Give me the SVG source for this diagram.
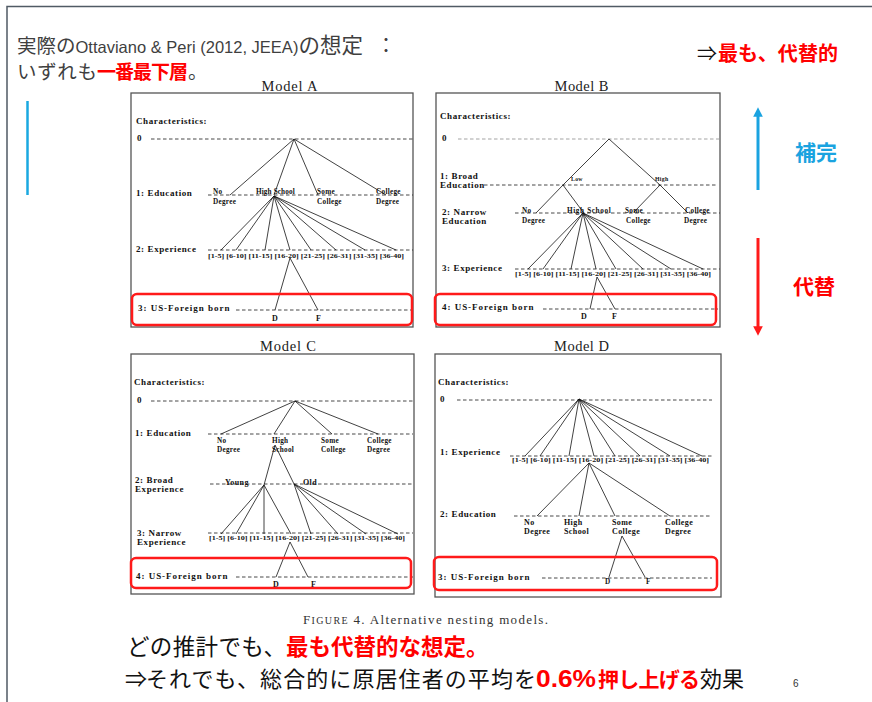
<svg xmlns="http://www.w3.org/2000/svg" width="872" height="702" viewBox="0 0 872 702">
<style>
.jp{font-family:"Noto Sans CJK JP","Noto Sans",sans-serif}
.g{fill:#3f3f3f}
.k{fill:#111}
.r{fill:#ff0000;font-weight:bold}
.b{fill:#1aa3e0;font-weight:bold}
.title{font-family:"Liberation Serif",serif;font-size:14.5px;fill:#222}
.lv{font-family:"Liberation Serif",serif;font-weight:bold;font-size:9px;letter-spacing:0.6px;fill:#111}
.nd{font-family:"Liberation Serif",serif;font-weight:bold;font-size:7.2px;letter-spacing:0.3px;fill:#111}
.nd2{font-family:"Liberation Serif",serif;font-weight:bold;font-size:8px;letter-spacing:0.4px;fill:#111}
.ex{font-family:"Liberation Serif",serif;font-weight:bold;font-size:7px;fill:#111}
.box{fill:none;stroke:#555;stroke-width:1.3}
.hl{fill:none;stroke:#ff1a1a;stroke-width:2.5}
.dash{stroke:#333;stroke-width:0.9;stroke-dasharray:3.5 2.5;fill:none}
.dl{stroke:#999}
.e{stroke:#111;stroke-width:0.8;fill:none}
</style>
<defs>
<marker id="ab" viewBox="0 0 10 10" refX="5" refY="5" markerWidth="3.2" markerHeight="3.2" orient="auto"><path d="M0,0L10,5L0,10z" fill="#1aa3e0"/></marker>
<marker id="ar" viewBox="0 0 10 10" refX="5" refY="5" markerWidth="3.2" markerHeight="3.2" orient="auto"><path d="M0,0L10,5L0,10z" fill="#ff1a1a"/></marker>
</defs>
<rect width="872" height="702" fill="#fff"/>
<path d="M7,702V6.5H872" fill="none" stroke="#505a64" stroke-width="1.5"/>
<line x1="27.5" y1="101" x2="27.5" y2="195" stroke="#1aa8e0" stroke-width="2.5"/>

<g id="heading" class="jp">
<text x="17" y="52.5" class="g"><tspan font-size="19.5">実際の</tspan><tspan font-family="Liberation Sans,sans-serif" font-size="16.5">Ottaviano &amp; Peri (2012, JEEA)</tspan><tspan font-size="21.5">の想定</tspan><tspan font-size="20" dx="13">：</tspan></text>
<text x="17" y="79" font-size="19.5" class="g" textLength="80">いずれも</text>
<text x="97" y="79" font-size="19" class="r" textLength="91">一番最下層</text>
<text x="188" y="79" font-size="19.5" class="g">。</text>
</g>

<g id="side" class="jp">
<text x="697" y="61" font-size="20" fill="#111">⇒</text>
<text x="718" y="61" font-size="20" class="r" textLength="120">最も、代替的</text>
<line x1="758" y1="190" x2="758" y2="112" stroke="#1aa3e0" stroke-width="3" marker-end="url(#ab)"/>
<text x="795" y="160" font-size="21" class="b">補完</text>
<line x1="758" y1="238" x2="758" y2="331" stroke="#ff1a1a" stroke-width="3" marker-end="url(#ar)"/>
<text x="793" y="294" font-size="21" class="r">代替</text>
</g>

<!-- Model A -->
<g id="model-a">
<text x="289.5" y="91" class="title" text-anchor="middle" textLength="56">Model A</text>
<rect class="box" x="131" y="93" width="282" height="234"/>
<g class="dash">
<line x1="151" y1="139" x2="413" y2="139"/>
<line x1="208" y1="195" x2="413" y2="195"/>
<line x1="208" y1="250" x2="413" y2="250"/>
<line x1="236" y1="310" x2="413" y2="310"/>
</g>
<text class="lv" x="136" y="124">Characteristics:</text>
<text class="lv" x="137" y="141">0</text>
<text class="lv" x="136" y="196">1: Education</text>
<text class="lv" x="136" y="252">2: Experience</text>
<text class="lv" x="138" y="311" textLength="92">3: US-Foreign born</text>
<g class="nd">
<text x="213" y="194">No</text><text x="256" y="194" textLength="39">High School</text><text x="317" y="194">Some</text><text x="376" y="194">College</text>
<text x="213" y="204">Degree</text><text x="317" y="204">College</text><text x="376" y="204">Degree</text>
</g>
<text class="ex" x="208" y="258" textLength="196" lengthAdjust="spacingAndGlyphs">[1-5] [6-10] [11-15] [16-20] [21-25] [26-31] [31-35] [36-40]</text>
<text class="nd2" x="272" y="321">D</text><text class="nd2" x="316" y="321">F</text>
<g id="conn-a" class="e">
<path d="M294,139L230,195M294,139L274,195M294,139L318,195M294,139L386,195"/>
<path d="M274,196L221,250M274,196L236,250M274,196L265,250M274,196L290,250M274,196L311,250M274,196L336,250M274,196L365,250M274,196L396,250"/>
<path d="M290,258L275,310M290,258L318,310"/>
</g>
<rect class="hl" x="132" y="294" width="280" height="31" rx="5"/>
</g>

<!-- Model B -->
<g id="model-b">
<text x="581.5" y="91" class="title" text-anchor="middle" textLength="54">Model B</text>
<rect class="box" x="436" y="93" width="284" height="234"/>
<g class="dash">
<line class="dl" x1="458" y1="139" x2="720" y2="139"/>
<line x1="484" y1="185" x2="716" y2="185"/>
<line x1="515" y1="213" x2="720" y2="213"/>
<line x1="515" y1="269" x2="720" y2="269"/>
<line x1="543" y1="309" x2="718" y2="309"/>
</g>
<text class="lv" x="440" y="119">Characteristics:</text>
<text class="lv" x="442" y="141">0</text>
<text class="lv" x="440" y="179">1:  Broad</text>
<text class="lv" x="440" y="188">Education</text>
<text class="lv" x="442" y="215">2:  Narrow</text>
<text class="lv" x="442" y="224">Education</text>
<text class="lv" x="442" y="271">3: Experience</text>
<text class="lv" x="442" y="310" textLength="92">4: US-Foreign born</text>
<g class="nd">
<text x="571" y="181" font-size="5.8">Low</text><text x="655" y="181" font-size="5.8">High</text>
<text x="522" y="213">No</text><text x="567" y="213" textLength="44">High School</text><text x="625" y="213">Some</text><text x="685" y="213">College</text>
<text x="522" y="223">Degree</text><text x="626" y="223">College</text><text x="684" y="223">Degree</text>
</g>
<text class="ex" x="515" y="276" textLength="196" lengthAdjust="spacingAndGlyphs">[1-5] [6-10] [11-15] [16-20] [21-25] [26-31] [31-35] [36-40]</text>
<text class="nd2" x="581" y="319">D</text><text class="nd2" x="612" y="319">F</text>
<g id="conn-b" class="e">
<path d="M609,139L563,185M609,139L660,185"/>
<path d="M563,185L536,213M563,185L583,212M660,185L634,212M660,185L688,213"/>
<path d="M583,213L528,269M583,213L543,269M583,213L571,269M583,213L596,269M583,213L616,269M583,213L643,269M583,213L671,269M583,213L703,269"/>
<path d="M597,277L590,309M597,277L615,309"/>
</g>
<rect class="hl" x="435" y="294" width="281" height="31" rx="5"/>
</g>

<!-- Model C -->
<g id="model-c">
<text x="288" y="351" class="title" text-anchor="middle" textLength="56">Model C</text>
<rect class="box" x="131" y="354" width="283" height="240"/>
<g class="dash">
<line x1="151" y1="401" x2="413" y2="401"/>
<line x1="208" y1="434" x2="413" y2="434"/>
<line x1="210" y1="484" x2="413" y2="484"/>
<line x1="208" y1="533" x2="413" y2="533"/>
<line x1="236" y1="577" x2="413" y2="577"/>
</g>
<text class="lv" x="134" y="385">Characteristics:</text>
<text class="lv" x="137" y="403">0</text>
<text class="lv" x="135" y="436">1: Education</text>
<text class="lv" x="135" y="483">2: Broad</text>
<text class="lv" x="135" y="492">Experience</text>
<text class="lv" x="137" y="536">3: Narrow</text>
<text class="lv" x="137" y="545">Experience</text>
<text class="lv" x="136" y="579" textLength="92">4: US-Foreign born</text>
<g class="nd">
<text x="217" y="443">No</text><text x="272" y="443">High</text><text x="321" y="443">Some</text><text x="367" y="443">College</text>
<text x="217" y="452">Degree</text><text x="272" y="452">School</text><text x="321" y="452">College</text><text x="367" y="452">Degree</text>
</g>
<text class="nd2" x="225" y="485">Young</text><text class="nd2" x="303" y="485">Old</text>
<text class="ex" x="209" y="540" textLength="196" lengthAdjust="spacingAndGlyphs">[1-5] [6-10] [11-15] [16-20] [21-25] [26-31] [31-35] [36-40]</text>
<text class="nd2" x="273" y="587">D</text><text class="nd2" x="311" y="587">F</text>
<g id="conn-c" class="e">
<path d="M295,401L221,434M295,401L274,434M295,401L332,434M295,401L378,434"/>
<path d="M275,445L264,485M275,445L294,484"/>
<path d="M264,485L221,534M264,485L236,534M264,485L264,534M264,485L291,534"/>
<path d="M294,484L311,534M294,484L338,534M294,484L366,534M294,484L398,534"/>
<path d="M290,542L276,577M290,542L308,577"/>
</g>
<rect class="hl" x="131" y="558" width="280" height="30" rx="5"/>
</g>

<!-- Model D -->
<g id="model-d">
<text x="581.5" y="351" class="title" text-anchor="middle" textLength="55">Model D</text>
<rect class="box" x="435" y="354" width="286" height="243"/>
<g class="dash">
<line x1="457" y1="400" x2="712" y2="400"/>
<line x1="510" y1="456" x2="712" y2="456"/>
<line x1="514" y1="516" x2="712" y2="516"/>
<line x1="542" y1="578" x2="712" y2="578"/>
</g>
<text class="lv" x="438" y="385">Characteristics:</text>
<text class="lv" x="440" y="402">0</text>
<text class="lv" x="440" y="455">1: Experience</text>
<text class="lv" x="440" y="517">2: Education</text>
<text class="lv" x="438" y="580" textLength="92">3: US-Foreign born</text>
<text class="ex" x="512" y="462" textLength="197" lengthAdjust="spacingAndGlyphs">[1-5] [6-10] [11-15] [16-20] [21-25] [26-31] [31-35] [36-40]</text>
<g class="nd2">
<text x="524" y="525">No</text><text x="564" y="525">High</text><text x="612" y="525">Some</text><text x="665" y="525">College</text>
<text x="524" y="534">Degree</text><text x="564" y="534">School</text><text x="612" y="534">College</text><text x="665" y="534">Degree</text>
</g>
<text class="nd" x="605" y="584">D</text><text class="nd" x="646" y="584">F</text>
<g id="conn-d" class="e">
<path d="M579,399L525,456M579,399L540,456M579,399L569,456M579,399L594,456M579,399L615,456M579,399L640,456M579,399L670,456M579,399L702,456"/>
<path d="M589,463L537,516M589,463L579,516M589,463L615,516M589,463L670,516"/>
<path d="M622,536L609,577M622,536L645,577"/>
</g>
<rect class="hl" x="434" y="557" width="283" height="33" rx="5"/>
</g>

<text x="303" y="624" font-family="Liberation Serif,serif" font-size="13" fill="#333" textLength="245">F<tspan font-size="10">IGURE</tspan> 4.  Alternative nesting models.</text>

<g id="footer" class="jp">
<text x="127" y="655" font-size="22.5" class="k" textLength="159">どの推計でも、</text>
<text x="286" y="655" font-size="22.5" class="r">最も代替的な想定。</text>
<text x="125" y="687" font-size="22" class="k">⇒</text>
<text x="146" y="687" font-size="22" class="k" textLength="390">それでも、総合的に原居住者の平均を</text>
<text x="536" y="687" font-size="23" font-family="Liberation Sans,sans-serif" class="r" textLength="60" lengthAdjust="spacingAndGlyphs">0.6%</text>
<text x="598" y="687" font-size="21" class="r" textLength="102">押し上げる</text>
<text x="700" y="687" font-size="22" class="k">効果</text>
<text x="793" y="687" font-size="10" font-family="Liberation Sans,sans-serif" fill="#333">6</text>
</g>
</svg>
